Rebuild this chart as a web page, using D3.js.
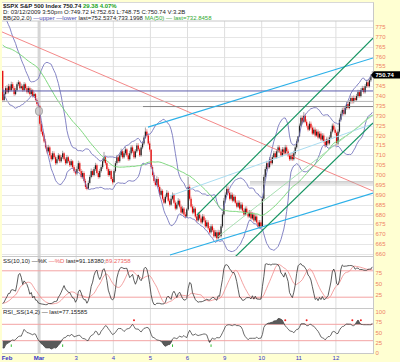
<!DOCTYPE html>
<meta charset="utf-8">
<style>
  body { margin: 0; background: #ffffd2; }
  svg { display: block; font-family: "Liberation Sans", Arial, sans-serif; }
  .hdr { font-size: 6px; fill: #222; }
  .axisNum { font-size: 6px; fill: #ef7f63; }
  .dateLbl { font-size: 6px; fill: #3535c8; text-anchor: middle; font-weight: bold; }
</style>
<body>
<script src="https://cdn.jsdelivr.net/npm/d3@7"></script>
<script>

// ---- data: 15-minute bars, 26 per session ----
const barsPerDay = 26
const dayLabels = ["Feb", "Mar", "3", "4", "5", "6", "9", "10", "11", "12"]

// Feb 25 + Feb 26, only used to warm up the indicators
const priorClose = [
  770, 775, 778, 772, 765, 760, 756, 754, 758, 762, 760, 765, 769, 772, 770, 768, 771, 774, 776, 773, 770, 766, 768, 765, 762, 764.9,
  768, 772, 776, 778, 775, 773, 774, 776, 777, 775, 772, 770, 771, 769, 766, 764, 765, 762, 760, 761, 758, 756, 757, 754, 752.5, 752.8]
const priorHigh = [
  773.5, 776.2, 780.1, 778.6, 773, 766, 761, 757.5, 759.3, 763.2, 762.8, 766.1, 770.3, 773.4, 772.9, 771, 772.2, 775.1, 777.4, 776.5, 773.8, 771, 769.2, 768.8, 766, 765.8,
  769.3, 773.4, 777.2, 779.4, 778.8, 775.9, 775.1, 777.2, 778.3, 777.6, 775.8, 772.9, 772.2, 771.8, 769.6, 766.8, 766.2, 765.7, 763.1, 762.3, 761.9, 758.7, 758.2, 757.9, 755, 754.1]
const priorLow = [
  768.1, 769.5, 774.2, 771.5, 764.2, 758.9, 755.1, 752.9, 753.6, 757.2, 759.1, 759.4, 764.3, 768.2, 769.1, 767.2, 767.5, 770.3, 773.4, 772, 769.2, 765.1, 765.4, 764.2, 761.5, 761.8,
  764.2, 767.3, 771.5, 775.2, 774.1, 772.2, 772.1, 773.3, 775.4, 774.2, 771.3, 769.1, 769.4, 768.2, 765.1, 763.2, 763.3, 761.1, 759.2, 759.4, 757.3, 755.2, 755.3, 753.1, 751.75, 751.9]

// Feb 27 .. Mar 12 (visible)
const close = [
  738, 741, 744, 742, 745, 743, 746, 744, 741, 743, 746, 747, 744, 745, 743, 746, 744, 742, 744, 741, 743, 740, 741, 738, 736, 735.1,
  726, 722, 720, 717, 714, 712, 714, 710, 708, 711, 709, 706, 708, 710, 707, 709, 711, 708, 706, 709, 707, 705, 707, 704, 702, 700.8,
  703, 706, 702, 699, 701, 697, 694, 693, 696, 699, 702, 700, 703, 705, 701, 699, 702, 704, 707, 709, 706, 703, 700, 702, 698, 696.3,
  702, 706, 709, 707, 710, 712, 709, 711, 713, 710, 708, 711, 714, 712, 709, 712, 715, 713, 710, 714, 716, 719, 722, 720, 716, 712.9,
  704, 700, 697, 695, 698, 694, 690, 692, 688, 686, 689, 691, 687, 685, 688, 690, 686, 683, 685, 687, 684, 681, 683, 680, 679, 682.6,
  694, 688, 684, 681, 683, 679, 677, 680, 678, 676, 679, 677, 674, 676, 673, 671, 674, 672, 669, 671, 668, 671, 669, 674, 680, 687,
  690, 693, 691, 688, 690, 687, 689, 686, 684, 686, 683, 685, 682, 680, 683, 681, 679, 681, 678, 680, 677, 679, 676, 674, 676, 674,
  688, 699, 703, 706, 704, 708, 706, 709, 711, 709, 712, 714, 712, 710, 713, 711, 714, 712, 710, 708, 710, 708, 711, 714, 717, 719.6,
  725, 729, 727, 730, 727, 725, 723, 726, 724, 721, 723, 720, 722, 719, 721, 718, 720, 717, 715, 718, 716, 719, 722, 725, 723, 721.4,
  716, 722, 728, 731, 733, 731, 734, 736, 734, 737, 739, 737, 739, 738, 740, 742, 740, 743, 744, 742, 745, 747, 745, 748, 750, 750.74]
const high = [
  752.8, 742.3, 745.1, 745.6, 746.2, 746, 747.3, 747.1, 745, 744.2, 746.9, 748.1, 747.6, 746.3, 745.8, 747.1, 746.8, 745, 745.1, 744.8, 743.9, 743.6, 742.2, 741.6, 738.9, 737.2,
  735.1, 727.2, 723.4, 721.1, 718.3, 715.2, 715.3, 714.8, 711.2, 712.1, 712, 709.8, 709.3, 711.1, 710.7, 710.1, 712.3, 711.6, 708.9, 710.2, 709.6, 707.8, 708.1, 707.6, 704.9, 703.1,
  704.4, 707.3, 706.8, 703.1, 702.2, 701.9, 698.1, 695.3, 697.2, 700.1, 703.3, 702.8, 704.1, 706.2, 705.8, 702.1, 703.1, 705.3, 708.2, 711.7, 709.8, 706.9, 703.9, 703.1, 702.8, 699.1,
  702.9, 707.1, 710.2, 710.1, 711.3, 713.4, 712.8, 712.1, 714.2, 713.6, 711.1, 712.3, 715.2, 715.1, 712.8, 713.1, 716.2, 716.1, 713.8, 715.2, 717.3, 720.1, 724.1, 723.2, 720.9, 717.1,
  712.9, 705.1, 701.3, 698.2, 699.4, 698.9, 695.1, 693.2, 692.8, 689.1, 690.2, 692.4, 691.8, 688.1, 689.3, 691.2, 690.8, 687.1, 686.2, 688.3, 687.9, 685.1, 684.2, 683.8, 681.2, 683.4,
  699.1, 695.2, 689.1, 685.2, 684.3, 683.8, 680.1, 681.2, 681.1, 679.1, 680.2, 680.1, 678.2, 677.3, 677.1, 674.2, 675.1, 675.2, 673.1, 672.2, 672.1, 672.3, 672.1, 675.2, 681.3, 688.4,
  691.2, 695.1, 694.2, 692.1, 691.3, 691.1, 690.2, 689.8, 687.1, 687.2, 687.1, 686.3, 686.1, 683.2, 684.1, 684.2, 682.1, 682.3, 682.1, 681.2, 681.1, 680.2, 680.1, 677.1, 677.2, 677.1,
  689.1, 700.2, 704.3, 707.2, 707.1, 709.1, 709.2, 710.1, 712.2, 712.1, 713.1, 715.2, 715.1, 713.1, 714.2, 714.1, 715.3, 715.2, 713.1, 711.1, 711.2, 711.1, 712.3, 715.2, 718.1, 719.6,
  726.1, 730.2, 730.1, 731.9, 731.1, 728.2, 726.1, 727.2, 727.1, 725.1, 724.2, 724.1, 723.2, 723.1, 722.2, 722.1, 721.2, 721.1, 718.2, 719.1, 719.2, 720.1, 723.2, 726.1, 726.2, 724.1,
  722.1, 723.2, 729.1, 732.2, 734.1, 734.3, 735.1, 737.2, 737.1, 738.1, 740.2, 740.1, 740.3, 740.2, 741.1, 743.2, 743.1, 744.1, 745.2, 745.1, 746.1, 748.2, 748.1, 749.2, 751.1, 752.6]
const low = [
  736.9, 737.2, 740.3, 741.1, 741.3, 742.1, 742.4, 743.2, 740.1, 740.4, 742.3, 745.1, 743.2, 743.3, 742.1, 742.4, 743.1, 741.2, 741.3, 740.2, 740.4, 739.2, 739.3, 737.2, 735.1, 734.5,
  725.1, 720.8, 719.2, 716.2, 713.1, 710.9, 711.3, 709.2, 706.8, 707.4, 708.1, 705.1, 705.3, 707.2, 706.1, 706.3, 708.1, 707.2, 705.1, 705.4, 706.2, 704.1, 704.3, 703.2, 701.1, 699.7,
  699.9, 702.1, 701.3, 698.2, 698.1, 696.2, 692.9, 692.3, 692.6, 695.2, 698.3, 699.2, 699.3, 702.1, 700.2, 698.1, 698.3, 701.2, 703.1, 706.2, 705.1, 702.1, 699.1, 699.3, 697.1, 695.2,
  696.3, 701.2, 705.1, 706.1, 706.2, 709.1, 708.2, 708.3, 710.1, 709.2, 707.1, 707.3, 710.2, 711.1, 708.1, 708.3, 711.2, 712.1, 709.2, 709.3, 713.1, 715.2, 718.3, 719.1, 715.2, 711.8,
  703.1, 699.2, 696.1, 694.2, 694.3, 693.1, 689.2, 689.3, 687.1, 685.2, 685.3, 688.1, 686.2, 684.1, 684.3, 687.2, 685.3, 682.1, 682.3, 684.2, 683.1, 680.1, 680.3, 679.2, 677.9, 678.3,
  681.9, 687.1, 683.2, 680.1, 680.2, 678.1, 676.1, 676.3, 677.1, 675.2, 675.3, 676.2, 673.1, 673.3, 672.1, 670.2, 670.3, 671.1, 668.2, 668.3, 666.8, 667.3, 668.1, 668.3, 673.2, 679.1,
  686.1, 689.2, 690.1, 687.1, 687.2, 686.1, 686.3, 685.2, 683.1, 683.3, 682.1, 682.3, 681.1, 679.1, 679.3, 680.1, 678.1, 678.3, 677.1, 677.3, 676.1, 676.3, 675.1, 673.1, 672.9, 673.2,
  673.9, 687.2, 698.1, 702.1, 703.1, 703.3, 705.1, 705.3, 708.2, 708.1, 708.3, 711.2, 711.1, 709.1, 709.3, 710.1, 710.3, 711.1, 709.1, 707.1, 707.3, 707.1, 707.3, 710.2, 713.1, 716.2,
  719.3, 724.2, 726.1, 726.3, 726.2, 724.1, 722.1, 722.3, 723.1, 720.2, 720.3, 719.1, 719.3, 718.1, 718.3, 717.2, 717.3, 716.1, 713.85, 714.2, 715.1, 715.3, 718.2, 721.1, 722.1, 720.2,
  714.8, 715.2, 721.1, 727.1, 730.2, 730.1, 730.3, 733.1, 733.2, 733.3, 736.1, 736.2, 736.3, 737.1, 737.3, 739.1, 739.2, 739.3, 742.1, 741.2, 741.3, 744.1, 744.2, 744.3, 747.1, 749.1]

// hand-drawn annotations, in [bar position, price]
const redTrend = [[0, 772.5], [260, 691.9]]
const cyanUpper = [[102.3, 724.3], [260, 759.3]]
const cyanLower = [[117.7, 659.5], [260, 690.9]]
const cyanPale = [[117.7, 689.4], [260, 725.9]]
const greenUpper = [[136.7, 679.8], [260, 769.4]]
const greenLower = [[163.3, 658.5], [260, 726.4]]
const greenPale = [[151.1, 668.6], [260, 730.4]]
const blueLevel = [[0, 742.6], [260, 742.6]]
const greyLevels = [[[0, 737.3], [260, 737.3]], [[98.8, 734.7], [260, 734.7]]]
const greyPair = [[[173.8, 696.5], [260, 696.5]], [[173.8, 695.5], [260, 695.5]]]
const circleMark = [25.9, 732.4]

const priceTicks = d3.range(660, 776, 5)
const stochTicks = [75, 50, 25]
const rsiTicks = [100, 75, 50, 25, 0]

// ---- indicators ----
const nPrior = priorClose.length
const allClose = priorClose.concat(close),
      allHigh = priorHigh.concat(high),
      allLow = priorLow.concat(low)

function sma(v, n) {
  return v.map((d, i) => {
    if (i < n - 1) return null
    const w = v.slice(i - n + 1, i + 1)
    if (w.some(e => e == null)) return null
    return d3.mean(w)
  })
}

const ma50 = sma(allClose, 50)
const bbUp = [], bbLo = []
allClose.forEach((c, i) => {
  if (i < 19) { bbUp.push(null); bbLo.push(null); return }
  const w = allClose.slice(i - 19, i + 1)
  const m = d3.mean(w), sd = Math.sqrt(d3.mean(w, d => (d - m) ** 2))
  bbUp.push(m + 2 * sd); bbLo.push(m - 2 * sd)
})

const fastK = allClose.map((c, i) => {
  if (i < 9) return null
  const hh = d3.max(allHigh.slice(i - 9, i + 1)), ll = d3.min(allLow.slice(i - 9, i + 1))
  return 100 * (c - ll) / (hh - ll)
})
const slowK = sma(fastK, 3), slowD = sma(slowK, 10)

// RSI(14) on simple averages of gains / losses, then 2-bar smoothing
const gains = allClose.map((c, i) => i ? Math.max(c - allClose[i - 1], 0) : null)
const losses = allClose.map((c, i) => i ? Math.max(allClose[i - 1] - c, 0) : null)
const avgG = sma(gains, 14), avgL = sma(losses, 14)
const rsi = avgG.map((g, i) => g == null ? null : 100 - 100 / (1 + g / Math.max(avgL[i], 1e-6)))
const rsiS = sma(rsi, 2)

const visible = arr => close.map((d, i) => [i + 0.5, arr[i + nPrior]])

// ---- layout ----
const W = 400, H = 362
const plot = {left: 2, right: 373, top: 21, bottom: 256}

const svg = d3.select("body").append("svg")
  .attr("width", W)
  .attr("height", H)

const x = d3.scaleLinear().domain([0, close.length]).range([plot.left, plot.right])
const y = d3.scaleLinear().domain([660, 775]).range([254, 27])
const yS = d3.scaleLinear().domain([0, 100]).range([306, 262])
const yR = d3.scaleLinear().domain([0, 100]).range([353, 312])

svg.append("rect").attr("width", W).attr("height", H).attr("fill", "#ffffd2")
svg.append("rect")
  .attr("x", 2).attr("y", 2).attr("width", 371).attr("height", 351)
  .attr("fill", "white")

const defs = svg.append("defs")
defs.append("clipPath").attr("id", "clipPrice")
  .append("rect").attr("x", plot.left).attr("y", plot.top)
  .attr("width", plot.right - plot.left).attr("height", plot.bottom - plot.top)
defs.append("clipPath").attr("id", "clipStoch")
  .append("rect").attr("x", plot.left).attr("y", 257).attr("width", 371).attr("height", 51)

// grid
svg.append("g").selectAll("line")
  .data(priceTicks)
  .join("line")
    .attr("x1", plot.left).attr("x2", plot.right)
    .attr("y1", d => Math.round(y(d)) + 0.5).attr("y2", d => Math.round(y(d)) + 0.5)
    .attr("stroke", "#e6e6e6")

svg.append("g").selectAll("line")
  .data(dayLabels.slice(1).map((d, k) => (k + 1) * barsPerDay))
  .join("line")
    .attr("x1", d => x(d)).attr("x2", d => x(d))
    .attr("y1", plot.top).attr("y2", 353)
    .attr("stroke", (d, k) => k === 0 ? "#d6d6d6" : "#dedede")
    .attr("stroke-width", (d, k) => k === 0 ? 3 : 1)

// panel borders
;[plot.top, 256.5, 308.5, 353.5].forEach(v => {
  svg.append("line").attr("x1", 2).attr("x2", 373).attr("y1", v).attr("y2", v)
    .attr("stroke", "#c8c8c8")
})
svg.append("line").attr("x1", 373.5).attr("x2", 373.5).attr("y1", 2).attr("y2", 354).attr("stroke", "#c8c8c8")
svg.append("line").attr("x1", 2).attr("x2", 373.5).attr("y1", 2.5).attr("y2", 2.5).attr("stroke", "#d8d8d8")

// ---- price panel ----
const price = svg.append("g").attr("clip-path", "url(#clipPrice)")

const bars = close.map((c, i) => ({
  i, c, h: high[i], l: low[i],
  o: i ? close[i - 1] : priorClose[nPrior - 1]
}))

price.append("g").selectAll("line")
  .data(bars)
  .join("line")
    .attr("x1", d => x(d.i + 0.5)).attr("x2", d => x(d.i + 0.5))
    .attr("y1", d => y(d.h)).attr("y2", d => y(d.l))
    .attr("stroke", d => d.c < d.o ? "#f39090" : "#9a9a9a")
    .attr("stroke-width", 0.9)

price.append("g").selectAll("rect")
  .data(bars)
  .join("rect")
    .attr("x", d => x(d.i + 0.5) - 0.6)
    .attr("width", 1.2)
    .attr("y", d => y(Math.max(d.o, d.c)))
    .attr("height", d => Math.max(0.8, Math.abs(y(d.o) - y(d.c))))
    .attr("fill", d => d.c < d.o ? "#e40000" : "#222")

const line = d3.line()
  .defined(d => d[1] != null)
  .x(d => x(d[0]))
  .y(d => y(d[1]))

price.append("path").datum(visible(bbUp)).attr("d", line)
  .attr("fill", "none").attr("stroke", "#7676bd").attr("stroke-width", 0.9)
price.append("path").datum(visible(bbLo)).attr("d", line)
  .attr("fill", "none").attr("stroke", "#7676bd").attr("stroke-width", 0.9)
price.append("path").datum(visible(ma50)).attr("d", line)
  .attr("fill", "none").attr("stroke", "#6fd36f").attr("stroke-width", 0.9)

// annotation lines
const segs = [
  {pts: redTrend, color: "#f27a7a", w: 0.9},
  {pts: blueLevel, color: "#5c5cab", w: 1},
  {pts: greyLevels[0], color: "#b4b4b4", w: 1},
  {pts: greyLevels[1], color: "#858585", w: 1},
  {pts: greyPair[0], color: "#999", w: 0.8},
  {pts: greyPair[1], color: "#bbb", w: 0.8},
  {pts: cyanPale, color: "#a9dcf0", w: 1},
  {pts: greenPale, color: "#a8dfb2", w: 1},
  {pts: cyanUpper, color: "#2cb0e8", w: 1.2},
  {pts: cyanLower, color: "#2cb0e8", w: 1.2},
  {pts: greenUpper, color: "#149461", w: 1.2},
  {pts: greenLower, color: "#149461", w: 1.2}
]
price.append("g").selectAll("path")
  .data(segs)
  .join("path")
    .attr("d", d => line(d.pts))
    .attr("fill", "none")
    .attr("stroke", d => d.color)
    .attr("stroke-width", d => d.w)

price.append("ellipse")
  .attr("cx", x(circleMark[0])).attr("cy", y(circleMark[1]))
  .attr("rx", 3.5).attr("ry", 4.2)
  .attr("fill", "#c4c4c4").attr("fill-opacity", 0.8)
  .attr("stroke", "#8a8a8a").attr("stroke-width", 0.7)

// header
const h1 = svg.append("text").attr("class", "hdr").attr("x", 3).attr("y", 7.5).style("font-weight", "bold")
h1.append("tspan").text("$SPX S&P 500 Index ")
h1.append("tspan").text("750.74 ")
h1.append("tspan").attr("fill", "#1aa31a").text("29.38 4.07%")
svg.append("text").attr("class", "hdr").attr("x", 3).attr("y", 14)
  .text("D: 03/12/2009  3:50pm O:749.72 H:752.63 L:748.75 C:750.74 V:3.2B")
const h3 = svg.append("text").attr("class", "hdr").attr("x", 3).attr("y", 20)
h3.append("tspan").text("BB(20,2.0) ")
h3.append("tspan").attr("fill", "#4848b0").text("—upper —lower ")
h3.append("tspan").text("last=752.5374;733.1998 ")
h3.append("tspan").attr("fill", "#33aa33").text("MA(50) — last=732.8458")

// ---- stochastic panel ----
const stoch = svg.append("g").attr("clip-path", "url(#clipStoch)")
;[80, 20].forEach(v => {
  stoch.append("line").attr("x1", 2).attr("x2", 373).attr("y1", yS(v)).attr("y2", yS(v))
    .attr("stroke", "#f3a3a3")
})
const lineS = d3.line().defined(d => d[1] != null).x(d => x(d[0])).y(d => yS(d[1]))
stoch.append("path").datum(visible(slowD)).attr("d", lineS)
  .attr("fill", "none").attr("stroke", "#f08a8a").attr("stroke-width", 0.8)
stoch.append("path").datum(visible(slowK)).attr("d", lineS)
  .attr("fill", "none").attr("stroke", "#333").attr("stroke-width", 0.8)

const hs = svg.append("text").attr("class", "hdr").attr("x", 3).attr("y", 262.5)
hs.append("tspan").text("SS(10,10) ")
hs.append("tspan").text("—%K ")
hs.append("tspan").attr("fill", "#ee6666").text("—%D ")
hs.append("tspan").text("last=91.18380;")
hs.append("tspan").attr("fill", "#ee6666").text("89.27358")

// ---- RSI panel ----
const rsiG = svg.append("g")
;[70, 30].forEach(v => {
  rsiG.append("line").attr("x1", 2).attr("x2", 373).attr("y1", yR(v)).attr("y2", yR(v))
    .attr("stroke", "#f3a3a3")
})
const rsiPts = visible(rsiS)
rsiG.append("path").datum(rsiPts)
  .attr("d", d3.area().defined(d => d[1] != null)
    .x(d => x(d[0])).y0(yR(70)).y1(d => yR(Math.max(d[1], 70))))
  .attr("fill", "#5a5a5a")
rsiG.append("path").datum(rsiPts)
  .attr("d", d3.area().defined(d => d[1] != null)
    .x(d => x(d[0])).y0(yR(30)).y1(d => yR(Math.min(d[1], 30))))
  .attr("fill", "#5a5a5a")
rsiG.append("path").datum(rsiPts)
  .attr("d", d3.line().defined(d => d[1] != null).x(d => x(d[0])).y(d => yR(d[1])))
  .attr("fill", "none").attr("stroke", "#444").attr("stroke-width", 0.8)

const downs = rsiPts.filter((d, i) => i > 0 && rsiPts[i - 1][1] > 70 && d[1] <= 70)
const ups = rsiPts.filter((d, i) => i > 0 && rsiPts[i - 1][1] < 30 && d[1] >= 30)
rsiG.selectAll(".sig-dn").data(downs).join("circle")
  .attr("cx", d => x(d[0])).attr("cy", yR(80)).attr("r", 1).attr("fill", "#ee2222")
rsiG.selectAll(".sig-up").data(ups).join("rect")
  .attr("x", d => x(d[0]) - 0.5).attr("y", yR(21)).attr("width", 1).attr("height", 2.5)
  .attr("fill", "#33bb33")

svg.append("text").attr("class", "hdr").attr("x", 3).attr("y", 313.5)
  .text("RSI_SS(14,2) — last=77.15585")

// ---- axes labels ----
const lastPrice = close[close.length - 1]
const lastY = y(lastPrice)

svg.append("rect").attr("x", 374).attr("y", 0).attr("width", 26).attr("height", H).attr("fill", "#ffffd2")
svg.append("g").selectAll("text")
  .data(priceTicks.filter(d => Math.abs(y(d) - lastY) > 6))
  .join("text")
    .attr("class", "axisNum")
    .attr("x", 375.5).attr("y", d => y(d) + 2)
    .text(d => d)
svg.append("g").selectAll("text")
  .data(stochTicks)
  .join("text")
    .attr("class", "axisNum")
    .attr("x", 375.5).attr("y", d => yS(d) + 2)
    .text(d => d)
svg.append("g").selectAll("text")
  .data(rsiTicks)
  .join("text")
    .attr("class", "axisNum")
    .attr("x", 375.5).attr("y", d => yR(d) + 2)
    .text(d => d)

// last price tag
svg.append("path")
  .attr("d", `M371,${lastY}L374,${lastY - 3.6}H400V${lastY + 3.6}H374Z`)
  .attr("fill", "#000")
svg.append("text")
  .attr("x", 375.5).attr("y", lastY + 2.2)
  .attr("fill", "white").style("font-size", "6px").style("font-weight", "bold")
  .text(lastPrice.toFixed(2))

// date labels
svg.append("g").selectAll("text")
  .data(dayLabels)
  .join("text")
    .attr("class", "dateLbl")
    .attr("x", (d, k) => k === 0 ? x(0) + 5 : x(k * barsPerDay))
    .attr("y", 359.5)
    .style("font-weight", (d, k) => k < 2 ? "bold" : "normal")
    .text(d => d)

</script>
</body>
